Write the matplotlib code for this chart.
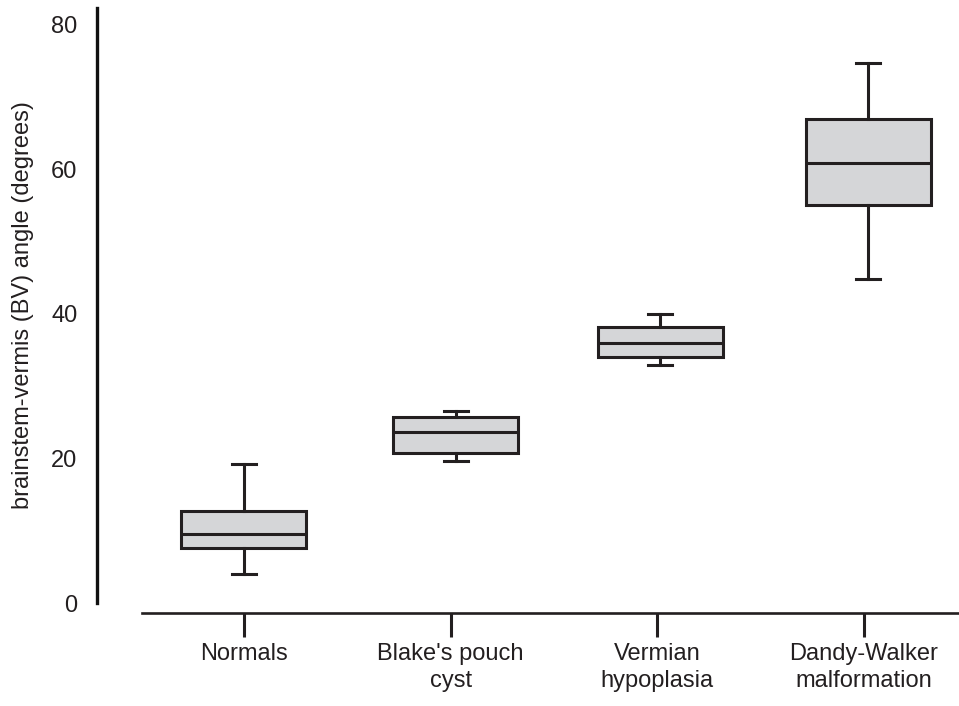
import matplotlib.pyplot as plt

plt.rcParams['font.family'] = ['Liberation Sans', 'DejaVu Sans']

groups = ['Normals', "Blake's pouch\ncyst", 'Vermian\nhypoplasia', 'Dandy-Walker\nmalformation']
whisker_low = [4.0, 19.7, 33.0, 44.8]
q1 = [7.6, 20.8, 34.1, 55.1]
median = [9.5, 23.7, 36.0, 60.9]
q3 = [12.7, 25.7, 38.2, 67.0]
whisker_high = [19.2, 26.6, 40.0, 74.7]
box_pos = [1.0, 2.025, 3.015, 4.02]

ink = '#231f20'

stats = []
for i in range(len(groups)):
    stats.append({'whislo': whisker_low[i], 'q1': q1[i], 'med': median[i],
                  'q3': q3[i], 'whishi': whisker_high[i], 'fliers': []})

fig = plt.figure(figsize=(9.59, 7.06), dpi=100)
ax = fig.add_axes([97 / 959, 1 - 603 / 706, 1 - 97 / 959, (603 - 8) / 706])

ax.bxp(stats, positions=box_pos, widths=0.605, capwidths=0.117, patch_artist=True,
       showfliers=False,
       boxprops=dict(facecolor='#d5d6d8', edgecolor=ink, linewidth=2.2),
       medianprops=dict(color=ink, linewidth=2.2),
       whiskerprops=dict(color=ink, linewidth=2.2),
       capprops=dict(color=ink, linewidth=2.2))

ax.set_xlim(0.289, 4.46)
ax.set_ylim(0, 82.35)

ax.spines['top'].set_visible(False)
ax.spines['right'].set_visible(False)
ax.spines['left'].set_linewidth(2.4)
ax.spines['left'].set_color('#111111')
ax.spines['bottom'].set_position(('outward', 7.2))
ax.spines['bottom'].set_bounds(0.507, 4.46)
ax.spines['bottom'].set_linewidth(1.9)
ax.spines['bottom'].set_color(ink)

ax.set_xticks([1, 2, 3, 4])
ax.set_xticklabels(groups, fontsize=17, color=ink, linespacing=1.3)
ax.tick_params(axis='x', length=17.5, width=2.2, color=ink, pad=4)

ax.set_yticks([0, 20, 40, 60, 80])
ax.tick_params(axis='y', length=0, labelsize=17, labelcolor=ink, pad=14)

ax.set_ylabel('brainstem-vermis (BV) angle (degrees)', fontsize=17, color=ink)
ax.yaxis.set_label_coords(-0.073, 0.5)

fig.savefig('out.png', dpi=100)
